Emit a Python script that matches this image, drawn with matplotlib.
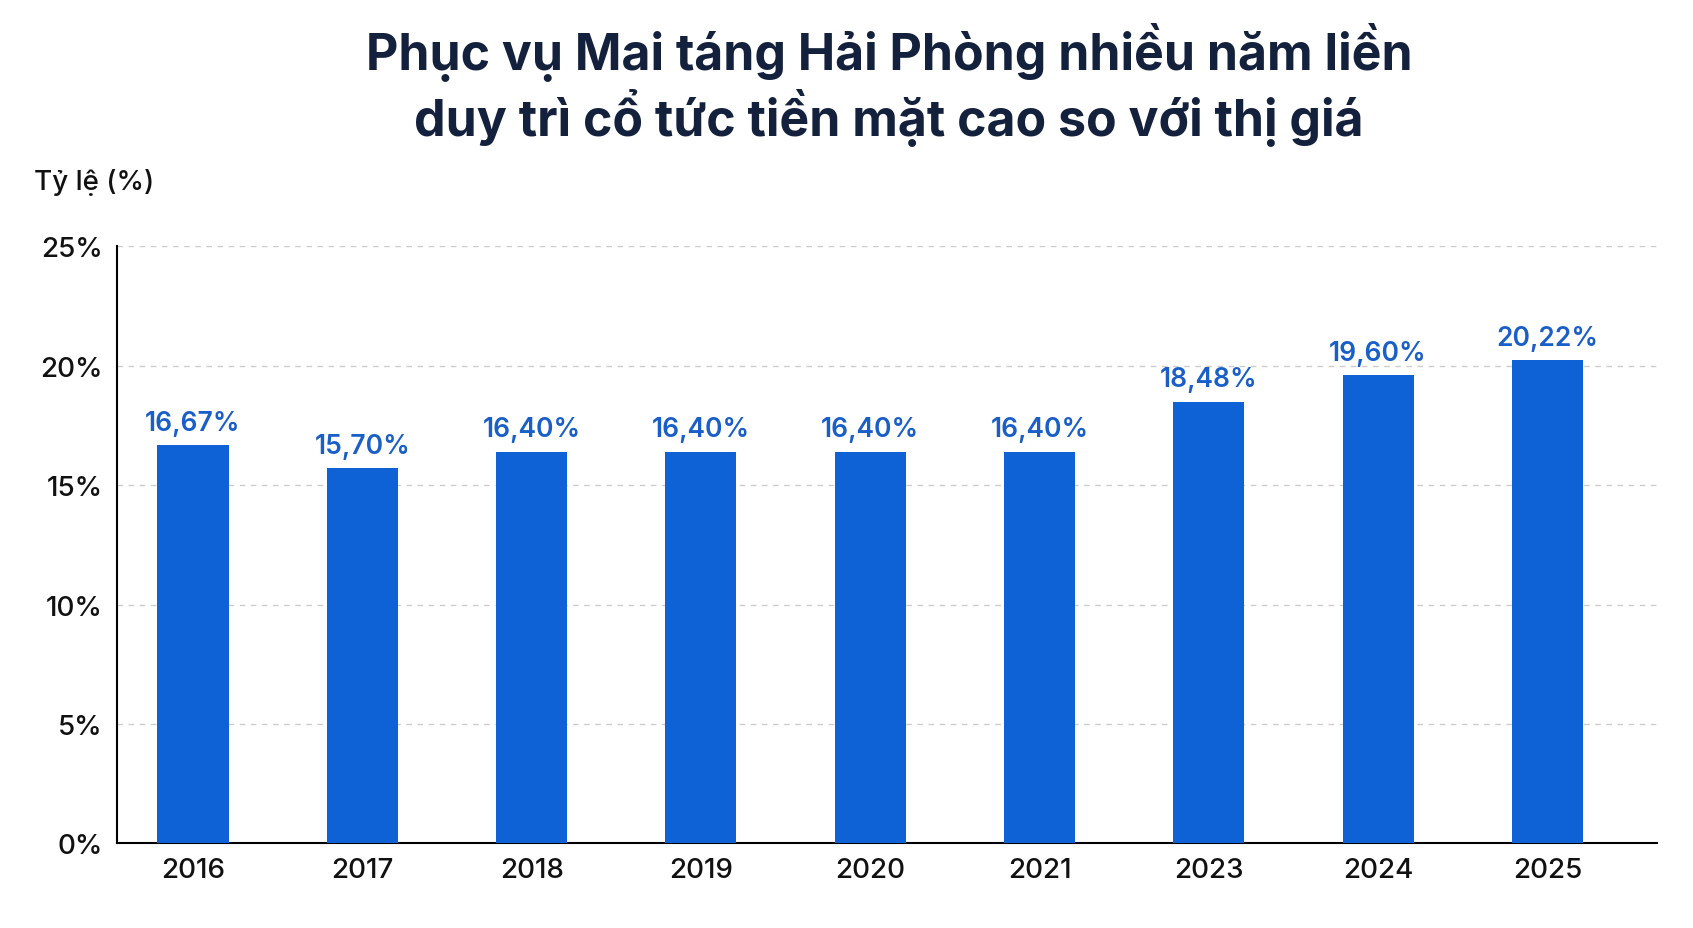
import matplotlib.pyplot as plt

# data
years = ["2016", "2017", "2018", "2019", "2020", "2021", "2023", "2024", "2025"]
ratios = [16.67, 15.70, 16.40, 16.40, 16.40, 16.40, 18.48, 19.60, 20.22]
labels = ["16,67%", "15,70%", "16,40%", "16,40%", "16,40%", "16,40%", "18,48%", "19,60%", "20,22%"]
yticks = [0, 5, 10, 15, 20, 25]

plt.rcParams['font.family'] = ['Inter', 'DejaVu Sans']

fig = plt.figure(figsize=(16.93, 9.29), dpi=100)
ax = fig.add_axes([0.069, 0.091, 0.91, 0.643])

x = range(len(years))
ax.bar(x, ratios, width=0.42, color="#0f62d6", zorder=3)
for i, (v, lab) in enumerate(zip(ratios, labels)):
    ax.text(i, v + 0.4, lab, ha="center", va="bottom", fontsize=19,
            color="#1a5fc8", fontweight="semibold")

ax.set_ylim(0, 25)
ax.set_xlim(-0.45, len(years) - 0.35)
ax.set_yticks(yticks)
ax.set_yticklabels([f"{t}%" for t in yticks], fontsize=20, color="#111111", fontweight="medium")
ax.set_xticks(list(x))
ax.set_xticklabels(years, fontsize=20, color="#111111", fontweight="medium")
ax.tick_params(length=0, pad=10)
ax.grid(axis="y", linestyle=(0, (4, 4)), color="#cccccc", linewidth=1, zorder=0)
for s in ["top", "right"]:
    ax.spines[s].set_visible(False)
ax.spines["left"].set_linewidth(1.5)
ax.spines["bottom"].set_linewidth(1.5)

fig.text(0.02, 0.795, "Tỷ lệ (%)", fontsize=20, color="#111111", fontweight="medium")
fig.text(0.525, 0.975, "Phục vụ Mai táng Hải Phòng nhiều năm liền\nduy trì cổ tức tiền mặt cao so với thị giá",
         ha="center", va="top", fontsize=36, fontweight="bold", color="#14213d", linespacing=1.15)

plt.savefig("out.png")
